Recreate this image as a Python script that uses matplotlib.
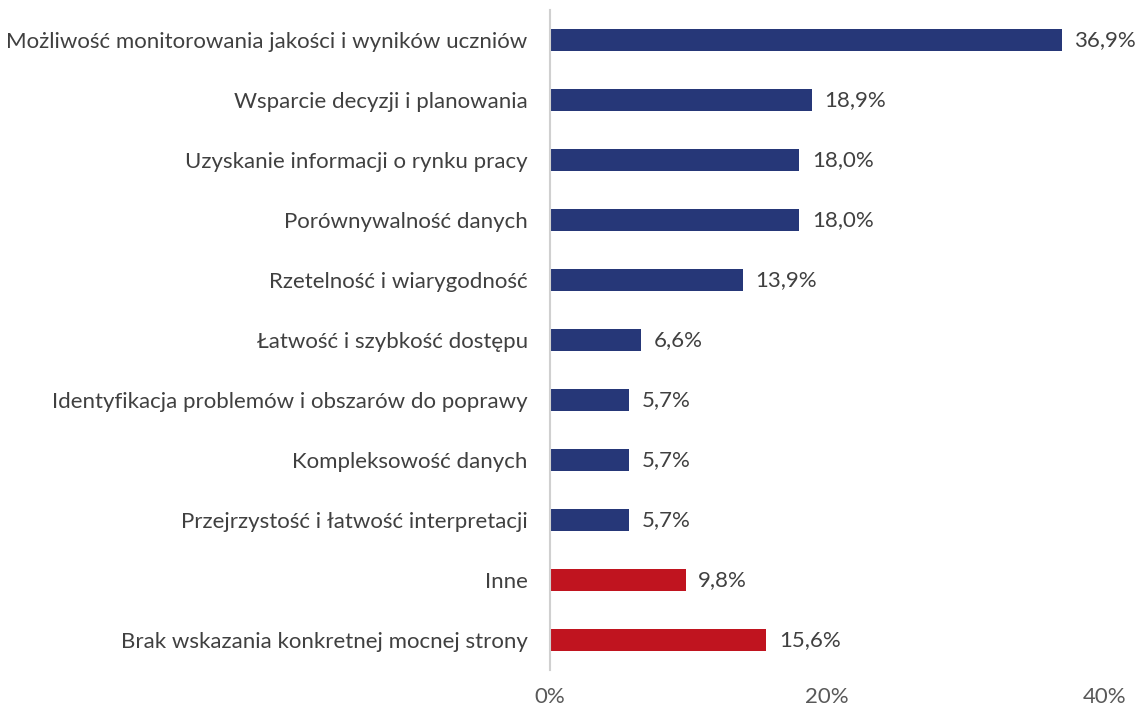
import matplotlib.pyplot as plt
from matplotlib.ticker import FuncFormatter

plt.rcParams['font.family'] = ['Lato', 'DejaVu Sans']

categories = [
    'Możliwość monitorowania jakości i wyników uczniów',
    'Wsparcie decyzji i planowania',
    'Uzyskanie informacji o rynku pracy',
    'Porównywalność danych',
    'Rzetelność i wiarygodność',
    'Łatwość i szybkość dostępu',
    'Identyfikacja problemów i obszarów do poprawy',
    'Kompleksowość danych',
    'Przejrzystość i łatwość interpretacji',
    'Inne',
    'Brak wskazania konkretnej mocnej strony',
]
values = [36.9, 18.9, 18.0, 18.0, 13.9, 6.6, 5.7, 5.7, 5.7, 9.8, 15.6]
groups = ['main'] * 9 + ['other'] * 2
palette = {'main': '#263778', 'other': '#C0141F'}

fig = plt.figure(figsize=(11.41, 7.09), dpi=100)
ax = fig.add_axes([0.482, 0.055, 0.486, 0.931])

ypos = list(range(len(categories)))
ax.barh(ypos, values, height=0.37, color=[palette[g] for g in groups])

for y, v in zip(ypos, values):
    ax.text(v + 0.9, y, f'{v:.1f}%'.replace('.', ','), va='center', ha='left',
            fontsize=16, color='#404040')

ax.set_yticks(ypos)
ax.set_yticklabels(categories, fontsize=16, color='#404040')
ax.set_ylim(10.5, -0.5)
ax.set_xlim(0, 40)
ax.set_xticks([0, 20, 40])
ax.xaxis.set_major_formatter(FuncFormatter(lambda x, _: f'{x:.0f}%'))
ax.tick_params(axis='x', length=0, labelsize=16, labelcolor='#595959', pad=12)
ax.tick_params(axis='y', length=0, pad=16)

for s in ['top', 'right', 'bottom']:
    ax.spines[s].set_visible(False)
ax.spines['left'].set_color('#D0D0D0')
ax.spines['left'].set_linewidth(1.5)

fig.savefig('out.png', dpi=100)
